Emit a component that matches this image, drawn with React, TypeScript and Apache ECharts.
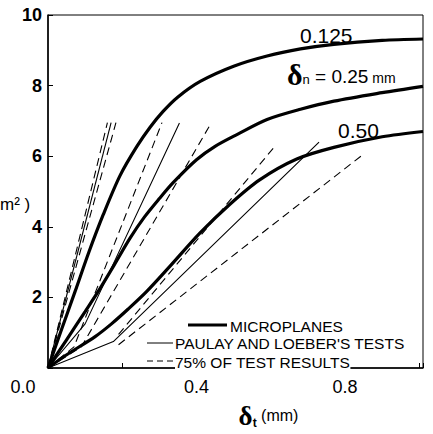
import React, { useEffect, useRef } from "react";
import * as echarts from "echarts";

// Microplane model curves (thick), for delta_n = 0.125, 0.25, 0.50 mm
const curve0125: number[][] = [[0,0],[0.035,1.05],[0.073,2.17],[0.11,3.28],[0.149,4.35],[0.194,5.45],[0.239,6.27],[0.275,6.82],[0.31,7.27],[0.35,7.68],[0.41,8.12],[0.5,8.55],[0.59,8.84],[0.68,9.04],[0.77,9.17],[0.9,9.28],[1.01,9.32]];
const curve025: number[][] = [[0,0],[0.05,0.8],[0.1,1.6],[0.14,2.25],[0.18,2.95],[0.221,3.68],[0.26,4.28],[0.3,4.8],[0.337,5.25],[0.4,5.9],[0.45,6.28],[0.51,6.62],[0.59,7.04],[0.68,7.33],[0.77,7.56],[0.9,7.8],[1.01,7.98]];
const curve050: number[][] = [[0,0],[0.045,0.34],[0.127,0.89],[0.171,1.25],[0.216,1.67],[0.266,2.17],[0.33,2.9],[0.409,3.82],[0.49,4.64],[0.57,5.33],[0.67,5.92],[0.77,6.25],[0.9,6.55],[1.01,6.7]];

// Paulay and Loeber's tests (thin solid)
const testA: number[][] = [[0,0],[0.17,6.95]];
const testB: number[][] = [[0,0],[0.1,1.25],[0.354,6.94]];
const testC: number[][] = [[0,0],[0.176,0.75],[0.73,6.4]];

// 75% of test results (dashed)
const dashA1: number[][] = [[0,0],[0.16,6.95]];
const dashA2: number[][] = [[0,0],[0.183,6.95]];
const dashB1: number[][] = [[0,0],[0.07,0.6],[0.307,6.95]];
const dashB2: number[][] = [[0,0],[0.09,0.6],[0.44,6.95]];
const dashC1: number[][] = [[0.19,0.95],[0.61,6.27]];
const dashC2: number[][] = [[0.19,0.66],[0.85,6.06]];

const xLabelValues = [0, 0.4, 0.8];
const yLabelValues = [2, 4, 6, 8, 10];
const legendNames = ["MICROPLANES", "PAULAY AND LOEBER'S TESTS", "75% OF TEST RESULTS"];
const curveLabels = ["0.125", "0.50"];

const FONT = "Liberation Sans";

export default function App() {
  const ref = useRef<HTMLDivElement>(null);
  useEffect(() => {
    const chart = echarts.init(ref.current!, null, { renderer: "svg" });
    const thick = (data: number[][]) => ({
      type: "line", data, smooth: 0.3, symbol: "none", name: legendNames[0],
      lineStyle: { color: "#000", width: 3.2 }, z: 3,
    });
    const thin = (data: number[][]) => ({
      type: "line", data, symbol: "none", name: legendNames[1],
      lineStyle: { color: "#000", width: 1.1 }, z: 2,
    });
    const dash = (data: number[][]) => ({
      type: "line", data, symbol: "none", name: legendNames[2],
      lineStyle: { color: "#000", width: 1.1, type: [8, 5] }, z: 2,
    });
    const isLabel = (arr: number[], v: number) => arr.some((a) => Math.abs(a - v) < 1e-6);
    const legendText = (text: string, x: number, y: number) => ({
      type: "text", x, y, z: 10,
      style: { text, font: `15.5px "${FONT}"`, fill: "#000", verticalAlign: "middle", align: "left", backgroundColor: "#fff" },
    });
    chart.setOption({
      animation: false,
      grid: { left: 48, right: 10, top: 15, bottom: 55, show: true, borderColor: "#000", borderWidth: 1 },
      xAxis: {
        type: "value", min: 0, max: 1.01, interval: 0.2,
        axisLine: { lineStyle: { color: "#000", width: 1.5 } },
        axisTick: { inside: true, length: 5, lineStyle: { color: "#000" } },
        splitLine: { show: false },
        axisLabel: {
          color: "#000", fontSize: 18, fontFamily: FONT, margin: 10,
          formatter: (v: number) => {
            if (!isLabel(xLabelValues, v)) return "";
            return v === 0 ? "{z|" + v.toFixed(1) + "}" : v.toFixed(1);
          },
          rich: { z: { fontSize: 18, fontFamily: FONT, color: "#000", padding: [0, 50, 0, 0] } },
        },
        name: "{d|δ}{s|t}{u| (mm)}",
        nameLocation: "middle",
        nameGap: 34,
        nameTextStyle: {
          padding: [0, 0, 0, 66],
          rich: {
            d: { fontSize: 27, fontFamily: "Liberation Serif", fontWeight: "bold", color: "#000" },
            s: { fontSize: 12, fontFamily: FONT, fontWeight: "bold", color: "#000", padding: [14, 0, 0, 0] },
            u: { fontSize: 16, fontFamily: FONT, color: "#000" },
          },
        },
      },
      yAxis: {
        type: "value", min: 0, max: 10, interval: 2,
        axisLine: { lineStyle: { color: "#000", width: 1.5 } },
        axisTick: { inside: true, length: 5, lineStyle: { color: "#000" } },
        splitLine: { show: false },
        axisLabel: {
          color: "#000", fontSize: 18, fontFamily: FONT, fontWeight: "bold", margin: 6,
          formatter: (v: number) => (isLabel(yLabelValues, v) ? String(v) : ""),
        },
      },
      series: [
        thick(curve0125), thick(curve025), thick(curve050),
        thin(testA), thin(testB), thin(testC),
        dash(dashA1), dash(dashA2), dash(dashB1), dash(dashB2), dash(dashC1), dash(dashC2),
      ],
      graphic: [
        { type: "text", left: 0, top: 196, style: { text: "m² )", font: `17px "${FONT}"`, fill: "#000" } },
        { type: "text", left: 300, top: 25, style: { text: curveLabels[0], font: `21px "${FONT}"`, fill: "#000" } },
        { type: "text", left: 338, top: 120, style: { text: curveLabels[1], font: `21px "${FONT}"`, fill: "#000" } },
        {
          type: "text", left: 287, top: 59,
          style: {
            text: "{d|δ}{s|n}{e| = 0.25}{m| mm}",
            rich: {
              d: { fontSize: 30, fontFamily: "Liberation Serif", fontWeight: "bold", fill: "#000" },
              s: { fontSize: 13, fontFamily: FONT, fill: "#000", padding: [10, 0, 0, 0] },
              e: { fontSize: 19, fontFamily: FONT, fill: "#000", padding: [4, 0, 0, 0] },
              m: { fontSize: 14, fontFamily: FONT, fill: "#000", padding: [8, 0, 0, 0] },
            },
          },
        },
        { type: "line", shape: { x1: 188, y1: 325, x2: 227, y2: 325 }, style: { stroke: "#000", lineWidth: 3 } },
        legendText(legendNames[0], 230, 326),
        { type: "line", shape: { x1: 147, y1: 343, x2: 173, y2: 343 }, style: { stroke: "#000", lineWidth: 1 } },
        legendText(legendNames[1], 175, 343),
        { type: "line", shape: { x1: 147, y1: 361, x2: 173, y2: 361 }, style: { stroke: "#000", lineWidth: 1, lineDash: [6, 4] } },
        legendText(legendNames[2], 175, 362),
      ],
    });
    return () => chart.dispose();
  }, []);
  return <div ref={ref} style={{ position: "fixed", left: 0, top: 0, width: 433, height: 434, background: "#fff" }} />;
}
